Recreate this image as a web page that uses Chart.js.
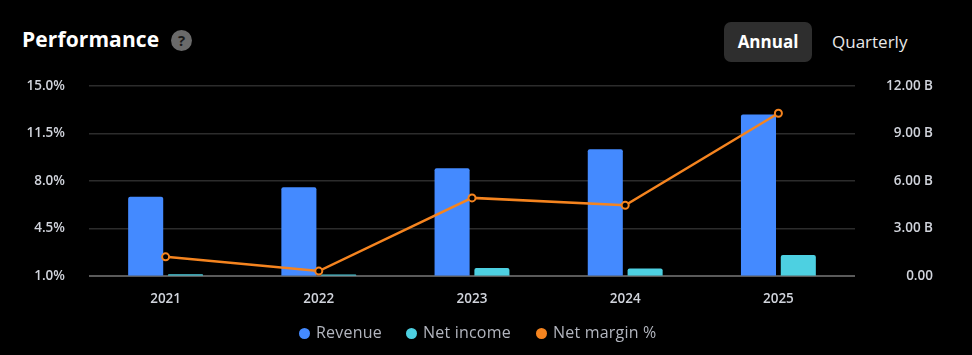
<!DOCTYPE html>
<html>
<head>
<meta charset="utf-8">
<script src="https://cdn.jsdelivr.net/npm/chart.js@4.4.0/dist/chart.umd.min.js"></script>
<style>
  html,body{margin:0;padding:0;background:#000;width:972px;height:355px;overflow:hidden;font-family:"Open Sans",sans-serif;}
  #title{position:absolute;left:22px;top:25px;color:#fff;font-size:21px;font-weight:700;letter-spacing:0.1px;}
  #q{position:absolute;left:171px;top:30px;width:21px;height:21px;border-radius:50%;background:#6a6a6a;color:#1a1a1a;font-size:15px;font-weight:700;text-align:center;line-height:21px;}
  #annual{position:absolute;left:724px;top:22px;width:88px;height:40px;border-radius:7px;background:#2e2e2e;color:#fff;font-size:17px;font-weight:700;text-align:center;line-height:40px;}
  #quarterly{position:absolute;left:832px;top:22px;height:40px;color:#e8e8e8;font-size:17px;line-height:40px;}
  #wrap{position:absolute;left:0;top:54px;width:972px;height:301px;}
  .lg{position:absolute;top:322px;height:20px;line-height:20px;color:#b2b5be;font-size:16px;white-space:nowrap;letter-spacing:0.2px;}
  .lg i{display:inline-block;width:11px;height:11px;border-radius:50%;margin-right:6px;vertical-align:-1px;}
</style>
</head>
<body>
<div id="title">Performance</div>
<div id="q">?</div>
<div id="annual">Annual</div>
<div id="quarterly">Quarterly</div>
<div id="wrap"><canvas id="c"></canvas></div>
<div id="legend"></div>
<script>
const years = ["2021","2022","2023","2024","2025"];
const revenue = [5.0, 5.6, 6.8, 8.0, 10.2];      // billions
const netIncome = [0.10, 0.09, 0.50, 0.46, 1.31]; // billions
const netMargin = [2.4, 1.35, 6.75, 6.2, 13.0];   // percent
const leftTicks = [1.0, 4.5, 8.0, 11.5, 15.0];
const leftTickLabels = ["1.0%","4.5%","8.0%","11.5%","15.0%"];
const rightTicks = [0, 3, 6, 9, 12];
const rightTickLabels = ["0.00","3.00 B","6.00 B","9.00 B","12.00 B"];
const legendNames = ["Revenue","Net income","Net margin %"];
const legendColors = ["#448aff","#4dd0e1","#f5841f"];
const legendLeft = [299, 406, 536];

const tickFont = {family:"Open Sans", size:13.5, weight:"600"};
const tickColor = "#d1d4dc";

const lg = document.getElementById("legend");
legendNames.forEach((n,i)=>{
  const d = document.createElement("div");
  d.className = "lg"; d.style.left = legendLeft[i] + "px";
  const dot = document.createElement("i"); dot.style.background = legendColors[i];
  d.appendChild(dot); d.appendChild(document.createTextNode(n));
  lg.appendChild(d);
});

new Chart(document.getElementById("c"), {
  data: {
    labels: years,
    datasets: [
      {type:"line", label:legendNames[2], data:netMargin, yAxisID:"yL",
       borderColor:legendColors[2], backgroundColor:legendColors[2], borderWidth:2.5,
       pointRadius:3.5, pointBorderWidth:2, pointBackgroundColor:"#000", pointBorderColor:legendColors[2],
       tension:0, order:0},
      {type:"bar", label:legendNames[0], data:revenue, yAxisID:"yR",
       backgroundColor:legendColors[0], borderRadius:{topLeft:2,topRight:2}, borderSkipped:"bottom",
       categoryPercentage:0.52, barPercentage:0.88, order:1},
      {type:"bar", label:legendNames[1], data:netIncome, yAxisID:"yR",
       backgroundColor:legendColors[1], borderRadius:{topLeft:2,topRight:2}, borderSkipped:"bottom",
       categoryPercentage:0.52, barPercentage:0.88, order:1}
    ]
  },
  options: {
    responsive:true, maintainAspectRatio:false, animation:false,
    layout:{padding:{left:0,right:39,top:2,bottom:33}},
    plugins:{
      tooltip:{enabled:false},
      legend:{display:false}
    },
    scales:{
      x:{
        grid:{display:false, drawTicks:false},
        border:{display:false},
        ticks:{color:tickColor, font:tickFont, padding:15}
      },
      yL:{
        position:"left", min:1, max:15,
        afterBuildTicks:(s)=>{s.ticks = leftTicks.map(v=>({value:v}));},
        afterFit:(s)=>{s.width = 89;},
        grid:{drawTicks:false, color:(ctx)=> ctx.tick && ctx.tick.value===1 ? "#5a5a5a" : "#2c2c2c", lineWidth:(ctx)=> ctx.tick && ctx.tick.value===1 ? 2 : 1.5},
        border:{display:false},
        ticks:{color:tickColor, font:tickFont, padding:24,
               callback:(v)=>{const i=leftTicks.indexOf(v);return i>=0?leftTickLabels[i]:"";}}
      },
      yR:{
        position:"right", min:0, max:12,
        afterBuildTicks:(s)=>{s.ticks = rightTicks.map(v=>({value:v}));},
        afterFit:(s)=>{s.width = 78;},
        grid:{display:false, drawTicks:false},
        border:{display:false},
        ticks:{color:tickColor, font:tickFont, padding:10, crossAlign:"far",
               callback:(v)=>{const i=rightTicks.indexOf(v);return i>=0?rightTickLabels[i]:"";}}
      }
    }
  }
});
</script>
</body>
</html>
